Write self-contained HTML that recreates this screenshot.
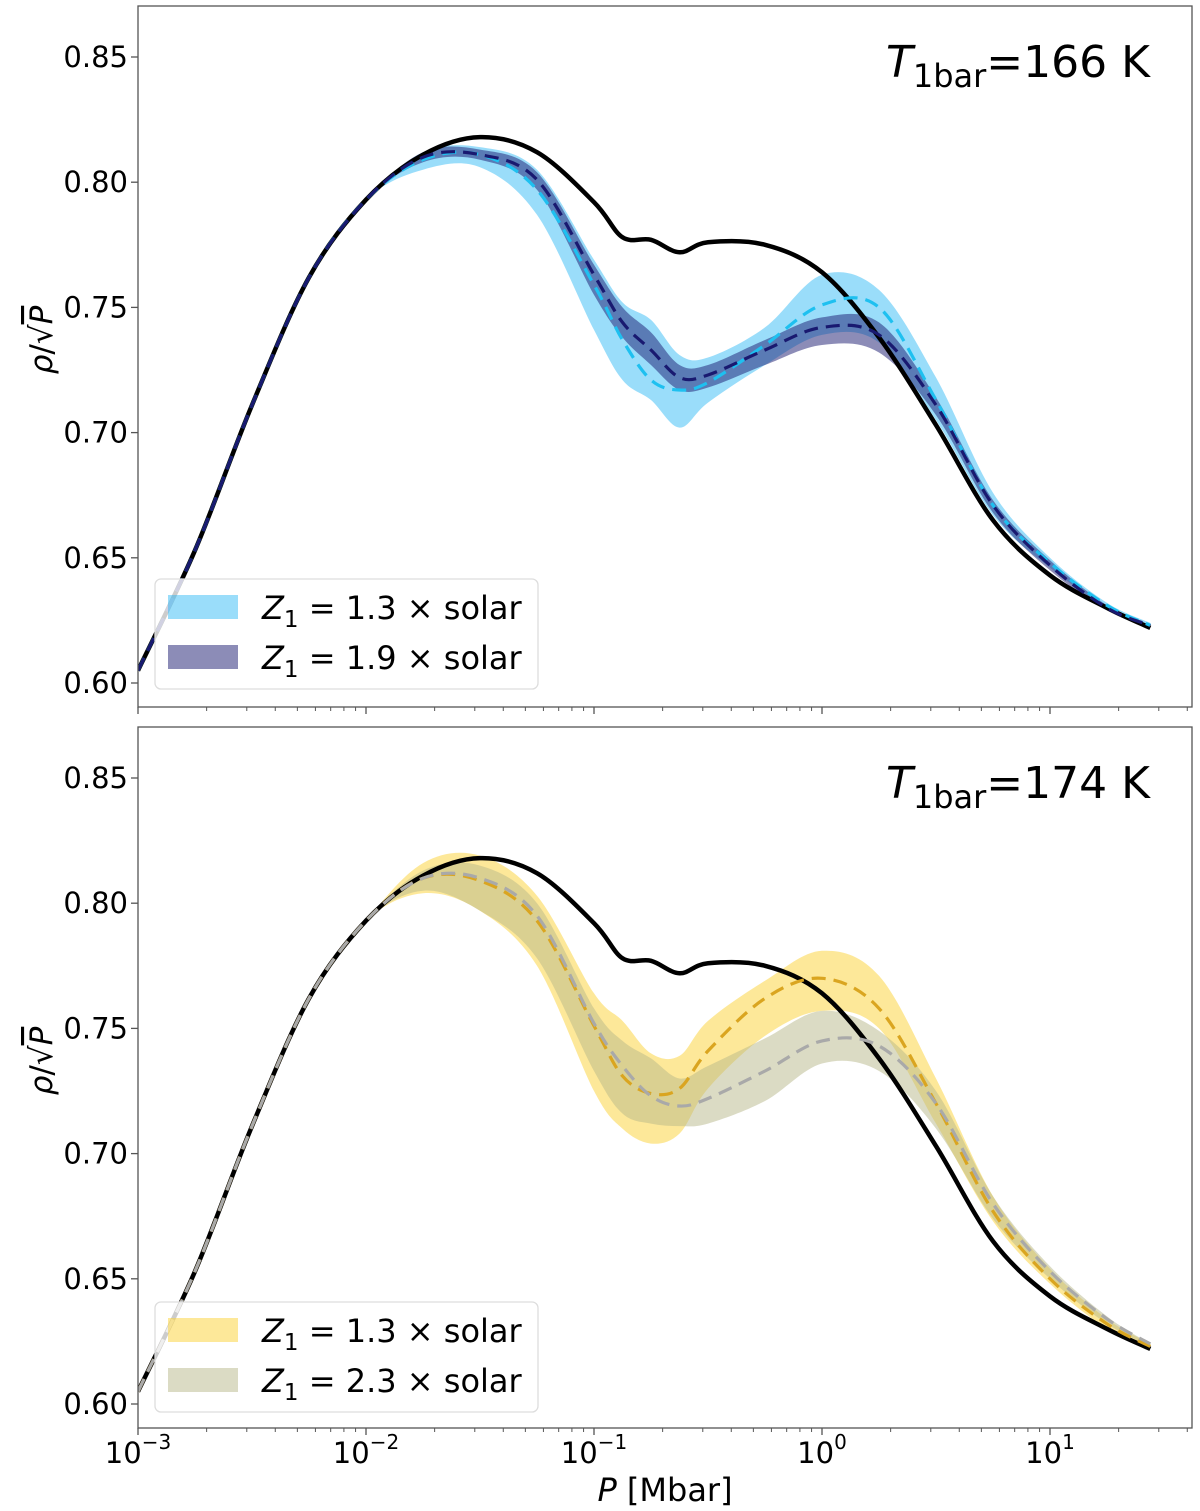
<!DOCTYPE html>
<html><head><meta charset="utf-8">
<style>
body{margin:0;background:#fff;}
svg{display:block;font-family:"DejaVu Sans","Liberation Sans",sans-serif;}
</style></head>
<body>
<svg id="chart" width="1200" height="1511" viewBox="0 0 1200 1511" xmlns="http://www.w3.org/2000/svg"></svg>
<script>
// shared log10(P) grid
const logP = [-3,-2.75,-2.5,-2.25,-2,-1.75,-1.5,-1.25,-1,-0.875,-0.75,-0.625,-0.5,-0.25,0,0.25,0.5,0.75,1,1.25,1.44];
const early = [0.605,0.653,0.711,0.762,0.793];
const blackRef = [0.605,0.653,0.711,0.762,0.793,0.811,0.818,0.812,0.792,0.778,0.777,0.772,0.776,0.775,0.764,0.738,0.703,0.665,0.643,0.630,0.622];
// top panel (166 K)
const lbMean = early.concat([0.809,0.811,0.797,0.759,0.737,0.721,0.717,0.720,0.735,0.751,0.750,0.713,0.671,0.648,0.631,0.623]);
const lbUp   = early.concat([0.812,0.814,0.805,0.769,0.752,0.745,0.731,0.730,0.742,0.763,0.757,0.722,0.676,0.650,0.632,0.624]);
const lbLo   = early.concat([0.805,0.806,0.787,0.741,0.721,0.713,0.702,0.712,0.727,0.739,0.736,0.705,0.667,0.646,0.630,0.622]);
const nvMean = early.concat([0.810,0.811,0.801,0.763,0.744,0.733,0.722,0.723,0.733,0.742,0.739,0.711,0.671,0.647,0.630,0.623]);
const nvUp   = early.concat([0.812,0.813,0.804,0.767,0.750,0.740,0.727,0.727,0.737,0.746,0.744,0.714,0.673,0.649,0.631,0.623]);
const nvLo   = early.concat([0.808,0.809,0.797,0.755,0.738,0.727,0.717,0.718,0.727,0.735,0.732,0.707,0.668,0.645,0.629,0.622]);
// bottom panel (174 K)
const gdMean = early.concat([0.810,0.809,0.793,0.751,0.731,0.724,0.726,0.741,0.762,0.770,0.758,0.720,0.677,0.650,0.632,0.623]);
const gdUp   = early.concat([0.816,0.819,0.803,0.764,0.753,0.740,0.739,0.753,0.769,0.781,0.771,0.730,0.683,0.654,0.634,0.624]);
const gdLo   = early.concat([0.804,0.797,0.775,0.725,0.710,0.704,0.708,0.726,0.747,0.757,0.750,0.712,0.673,0.648,0.630,0.622]);
const gyMean = early.concat([0.810,0.810,0.795,0.752,0.735,0.723,0.719,0.722,0.733,0.745,0.743,0.720,0.680,0.653,0.634,0.624]);
const gyUp   = early.concat([0.813,0.815,0.800,0.758,0.745,0.738,0.730,0.735,0.746,0.757,0.749,0.725,0.683,0.655,0.635,0.624]);
const gyLo   = early.concat([0.805,0.797,0.778,0.733,0.716,0.712,0.711,0.712,0.721,0.736,0.733,0.710,0.674,0.650,0.632,0.623]);
const yTicks = [0.60,0.65,0.70,0.75,0.80,0.85];
const xTickExp = [-3,-2,-1,0,1];

const NS="http://www.w3.org/2000/svg";
const svg=document.getElementById('chart');
function el(tag,attrs,parent){const e=document.createElementNS(NS,tag);for(const k in attrs)e.setAttribute(k,attrs[k]);(parent||svg).appendChild(e);return e;}
const X0=138,X1=1192;
function xs(lp){return X0+(lp+3)*228;}
function makeY(top){return v=>top+(0.85-v)*2504;}
function spline(xa,ya){
  const pts=xa.map((x,i)=>[x,ya[i]]);
  let d='M'+pts[0][0].toFixed(1)+','+pts[0][1].toFixed(1);
  for(let i=0;i<pts.length-1;i++){
    const p0=pts[i-1]||pts[i],p1=pts[i],p2=pts[i+1],p3=pts[i+2]||p2;
    const c1=[p1[0]+(p2[0]-p0[0])/6,p1[1]+(p2[1]-p0[1])/6];
    const c2=[p2[0]-(p3[0]-p1[0])/6,p2[1]-(p3[1]-p1[1])/6];
    d+='C'+c1[0].toFixed(1)+','+c1[1].toFixed(1)+' '+c2[0].toFixed(1)+','+c2[1].toFixed(1)+' '+p2[0].toFixed(1)+','+p2[1].toFixed(1);
  }
  return d;
}
function band(g,y,up,lo,fill,op,name){
  const xa=logP.map(xs);
  const d1=spline(xa,up.map(y));
  const rx=xa.slice().reverse(), rl=lo.map(y).reverse();
  const d2=spline(rx,rl).replace('M','L');
  const p=el('path',{d:d1+d2+'Z',fill:fill,'fill-opacity':op,stroke:'none'},g);
  
  
}
function line(g,y,vals,color,w,dash,name){
  const p=el('path',{d:spline(logP.map(xs),vals.map(y)),fill:'none',stroke:color,'stroke-width':w,'stroke-dasharray':dash||'none','stroke-linejoin':'round'},g);
  
  
}
function panel(cfg){
  const g=el('g',{});
  
  
  const y=makeY(cfg.y085);
  const T=cfg.top,B=cfg.bottom;
  const cid='clip'+cfg.top;
  const cp=el('clipPath',{id:cid},g);el('rect',{x:X0,y:T,width:X1-X0,height:B-T},cp);
  const dg=el('g',{'clip-path':'url(#'+cid+')'},g);
  band(dg,y,cfg.b1[0],cfg.b1[1],cfg.b1[2],cfg.b1[3],'band-1');
  band(dg,y,cfg.b2[0],cfg.b2[1],cfg.b2[2],cfg.b2[3],'band-2');
  line(dg,y,blackRef,'#000',4.5,null,'reference-line');
  line(dg,y,cfg.m1[0],cfg.m1[1],3.2,'14,8','mean-line-1');
  line(dg,y,cfg.m2[0],cfg.m2[1],3.2,'14,8','mean-line-2');
  const fr=el('rect',{x:X0,y:T,width:X1-X0,height:B-T,fill:'none',stroke:'#555','stroke-width':1.3},g);
  
  
  yTicks.forEach(v=>{
    const py=y(v);
    el('line',{x1:X0-7,x2:X0,y1:py,y2:py,stroke:'#555','stroke-width':1.3},g);
    const t=el('text',{x:X0-10,y:py+10,'text-anchor':'end','font-size':29,fill:'#000'},g);
    t.textContent=v.toFixed(2);
    
    
  });
  for(let e=-3;e<=1;e++){
    el('line',{x1:xs(e),x2:xs(e),y1:B,y2:B+7,stroke:'#555','stroke-width':1.3},g);
    for(let k=2;k<=9;k++){const lp=e+Math.log10(k);if(xs(lp)<X1)el('line',{x1:xs(lp),x2:xs(lp),y1:B,y2:B+4,stroke:'#555','stroke-width':1},g);}
  }
  const tt=el('text',{x:1150,y:cfg.top+71,'text-anchor':'end','font-size':44,fill:'#000'},g);
  tt.innerHTML='<tspan font-style="italic">T</tspan><tspan font-size="32" dy="10">1bar</tspan><tspan dy="-10">=</tspan>'+cfg.temp;
  
  
  const yl=el('text',{transform:'translate(52,'+(cfg.y085+283)+') rotate(-90)','text-anchor':'middle','font-size':31,fill:'#000'},g);
  yl.innerHTML='<tspan font-style="italic">ρ</tspan>/√<tspan font-style="italic" text-decoration="overline">P</tspan>';
  
  
  const lg=el('g',{},g);
  
  
  const ly=cfg.legendY;
  el('rect',{x:155,y:ly,width:383,height:110,rx:6,fill:'#fff','fill-opacity':0.8,stroke:'#ddd','stroke-width':1.3},lg);
  [[cfg.b1,cfg.l1],[cfg.b2,cfg.l2]].forEach((it,i)=>{
    const r=el('rect',{x:168,y:ly+16+i*50,width:70,height:24,fill:it[0][2],'fill-opacity':it[0][3]},lg);
    
    
    const t=el('text',{x:262,y:ly+40+i*50,'font-size':32,fill:'#000'},lg);
    t.innerHTML='<tspan font-style="italic">Z</tspan><tspan font-size="23" dy="8">1</tspan><tspan dy="-8"> = '+it[1]+' × solar</tspan>';
    
    
  });
  return g;
}
panel({name:'top-panel',top:6,bottom:707,y085:57,temp:'166 K',legendY:579,
  b1:[lbUp,lbLo,'#1fb4f5',0.45],b2:[nvUp,nvLo,'#191970',0.5],
  m1:[lbMean,'#1ec0f0'],m2:[nvMean,'#191970'],l1:'1.3',l2:'1.9'});
panel({name:'bottom-panel',top:727,bottom:1428,y085:778,temp:'174 K',legendY:1302,
  b1:[gdUp,gdLo,'#fcd233',0.5],b2:[gyUp,gyLo,'#b8b88a',0.5],
  m1:[gdMean,'#daa520'],m2:[gyMean,'#a9a9a9'],l1:'1.3',l2:'2.3'});
xTickExp.forEach(e=>{
  const t=el('text',{x:xs(e),y:1463,'text-anchor':'middle','font-size':29,fill:'#000'});
  t.innerHTML='10<tspan font-size="20" dy="-14">'+(e<0?'−':'')+Math.abs(e)+'</tspan>';
  
  
});
const xl=el('text',{x:665,y:1501,'text-anchor':'middle','font-size':32,fill:'#000'});
xl.innerHTML='<tspan font-style="italic">P</tspan> [Mbar]';


</script>
</body></html>
